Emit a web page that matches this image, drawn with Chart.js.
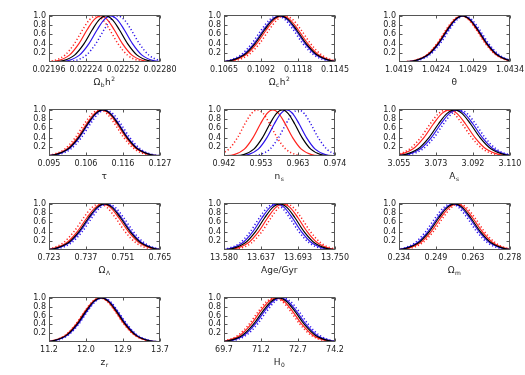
<!DOCTYPE html>
<html><head><meta charset="utf-8">
<script src="https://cdn.jsdelivr.net/npm/chart.js@4/dist/chart.umd.min.js"></script>
<style>
html,body{margin:0;padding:0;background:#fff;width:525px;height:375px;overflow:hidden;}
canvas{position:absolute;}
</style></head><body>
<script>
// ---------- data ----------
const axisLabels = [
  [['Ω','n'],['b','sub'],['h','n'],['2','sup']],
  [['Ω','n'],['c','sub'],['h','n'],['2','sup']],
  [['θ','n']],
  [['τ','n']],
  [['n','n'],['s','sub']],
  [['A','n'],['s','sub']],
  [['Ω','n'],['Λ','sub']],
  [['Age/Gyr','n']],
  [['Ω','n'],['m','sub']],
  [['z','n'],['r','sub']],
  [['H','n'],['0','sub']]
];
const xTickLabels = [
  ['0.02196','0.02224','0.02252','0.02280'],
  ['0.1065','0.1092','0.1118','0.1145'],
  ['1.0419','1.0424','1.0429','1.0434'],
  ['0.095','0.106','0.116','0.127'],
  ['0.942','0.953','0.963','0.974'],
  ['3.055','3.073','3.092','3.110'],
  ['0.723','0.737','0.751','0.765'],
  ['13.580','13.637','13.693','13.750'],
  ['0.234','0.249','0.263','0.278'],
  ['11.2','12.0','12.9','13.7'],
  ['69.7','71.2','72.7','74.2']
];
const xMin = [0.02196, 0.1065, 1.0419, 0.095, 0.942, 3.055, 0.723, 13.580, 0.234, 11.2, 69.7];
const xMax = [0.02280, 0.1145, 1.0434, 0.127, 0.974, 3.110, 0.765, 13.750, 0.278, 13.7, 74.2];
// peak positions of each likelihood curve
const centerBlack   = [0.022390, 0.11058, 1.042758, 0.11052, 0.95880, 3.08250, 0.74400, 13.6655, 0.25613, 12.375, 71.923];
const centerRed     = [0.022351, 0.11070, 1.042748, 0.11020, 0.95608, 3.08000, 0.74337, 13.6701, 0.25688, 12.355, 71.8285];
const centerBlue    = [0.022427, 0.11050, 1.042767, 0.11074, 0.96008, 3.08366, 0.74442, 13.6614, 0.25560, 12.395, 71.9905];
const centerRedDot  = [0.022317, 0.11090, 1.042740, 0.10956, 0.95160, 3.07838, 0.74211, 13.6752, 0.25776, 12.345, 71.7475];
const centerBlueDot = [0.022479, 0.11034, 1.042785, 0.11132, 0.96344, 3.08500, 0.74526, 13.6574, 0.25468, 12.4125, 72.085];
// half width at half maximum of the curves in each panel
const hwhmSolid  = [0.000143, 0.0016, 0.000285, 0.00608, 0.00496, 0.011, 0.0084, 0.0323, 0.0088, 0.475, 0.9];
const hwhmDotted = [0.000143, 0.0016, 0.000285, 0.00608, 0.00496, 0.011, 0.0084, 0.0323, 0.0088, 0.475, 0.9];
// bell profile: height vs. distance from peak (in HWHM units)
const profileY = [0, 0.03, 0.15, 0.4, 0.7, 0.92, 1];
const profileD = [2.89, 2.249, 1.654, 1.15, 0.717, 0.347, 0];
const yTicks = [0.2, 0.4, 0.6, 0.8, 1.0];

// ---------- layout ----------
const boxTop = [15, 109, 203, 297];
const boxH = [47, 47, 47, 45];
const colLeft = [0, 175, 350];
const PADTOP = 10, XAXH = 36, YAXW = 49, BOXW = 111, CW = 200;

function curve(c, h) {
  const pts = [];
  for (let i = 0; i < profileY.length; i++) pts.push({x: c - h * profileD[i], y: profileY[i]});
  for (let i = profileY.length - 2; i >= 0; i--) pts.push({x: c + h * profileD[i], y: profileY[i]});
  return pts;
}

const RED = 'rgb(255,35,30)', BLUE = 'rgb(45,20,235)';
const FONT = "'DejaVu Sans', sans-serif";

const frame = {
  id: 'frame',
  afterDatasetsDraw(chart) {
    const a = chart.chartArea, ctx = chart.ctx;
    ctx.save();
    ctx.strokeStyle = '#555';
    ctx.lineWidth = 1;
    const l = Math.round(a.left) + 0.5, r = Math.round(a.right) - 0.5;
    const t = Math.round(a.top) + 0.5, b = Math.round(a.bottom) - 0.5;
    ctx.strokeRect(l, t, r - l, b - t);
    ctx.beginPath();
    const xs = chart.scales.x;
    xs.ticks.forEach(tk => {
      const px = Math.round(xs.getPixelForValue(tk.value)) + 0.5;
      ctx.moveTo(px, b); ctx.lineTo(px, b - 3);
      ctx.moveTo(px, t); ctx.lineTo(px, t + 3);
    });
    const ys = chart.scales.y;
    ys.ticks.forEach(tk => {
      const py = Math.round(ys.getPixelForValue(tk.value)) + 0.5;
      ctx.moveTo(l, py); ctx.lineTo(l + 3, py);
      ctx.moveTo(r, py); ctx.lineTo(r - 3, py);
    });
    ctx.stroke();
    ctx.restore();
  }
};

const xTitle = {
  id: 'xTitle',
  afterDraw(chart, args, opts) {
    const parts = opts.parts, ctx = chart.ctx, a = chart.chartArea;
    ctx.save();
    ctx.fillStyle = '#222';
    ctx.textBaseline = 'alphabetic';
    const base = a.bottom + 23;
    const fN = "9px " + FONT, fS = "6px " + FONT;
    let w = 0;
    parts.forEach(p => { ctx.font = p[1] === 'n' ? fN : fS; w += ctx.measureText(p[0]).width + 0.5; });
    let x = (a.left + a.right) / 2 - w / 2;
    parts.forEach(p => {
      ctx.font = p[1] === 'n' ? fN : fS;
      const dy = p[1] === 'sub' ? 2 : (p[1] === 'sup' ? -4 : 0);
      ctx.fillText(p[0], x, base + dy);
      x += ctx.measureText(p[0]).width + 0.5;
    });
    ctx.restore();
  }
};

for (let i = 0; i < 11; i++) {
  const col = i % 3, row = Math.floor(i / 3);
  const cv = document.createElement('canvas');
  const H = PADTOP + boxH[row] + XAXH;
  cv.width = CW; cv.height = H;
  cv.style.left = colLeft[col] + 'px';
  cv.style.top = (boxTop[row] - PADTOP) + 'px';
  cv.style.width = CW + 'px'; cv.style.height = H + 'px';
  document.body.appendChild(cv);

  const mk = (data, color, dotted, w) => ({
    data, borderColor: color, borderWidth: w, pointRadius: 0, fill: false,
    cubicInterpolationMode: 'monotone', borderDash: dotted ? [1.2, 2.2] : [],
  });
  const datasets = [
    mk(curve(centerBlack[i], hwhmSolid[i]), '#000', false, 1.2),
    mk(curve(centerBlue[i], hwhmSolid[i]), BLUE, false, 1.2),
    mk(curve(centerRed[i], hwhmSolid[i]), RED, false, 1.2),
    mk(curve(centerBlueDot[i], hwhmDotted[i]), BLUE, true, 1.5),
    mk(curve(centerRedDot[i], hwhmDotted[i]), RED, true, 1.5),
  ];
  const lo = xMin[i], hi = xMax[i], labels = xTickLabels[i];
  new Chart(cv, {
    type: 'line',
    data: { datasets },
    options: {
      responsive: false, animation: false, devicePixelRatio: 1,
      layout: { padding: { top: PADTOP, right: CW - YAXW - BOXW, left: 0, bottom: 0 } },
      plugins: { legend: { display: false }, tooltip: { enabled: false }, xTitle: { parts: axisLabels[i] } },
      scales: {
        x: {
          type: 'linear', min: lo, max: hi,
          afterBuildTicks: s => { s.ticks = labels.map((_, k) => ({ value: lo + k * (hi - lo) / 3 })); },
          afterFit: s => { s.height = XAXH; },
          ticks: { autoSkip: false, maxRotation: 0, minRotation: 0, padding: 3, color: '#222',
                   font: { family: FONT, size: 8 }, callback: (v, k) => labels[k] },
          grid: { display: false, drawTicks: false }, border: { display: false }
        },
        y: {
          min: 0, max: 1.02,
          afterBuildTicks: s => { s.ticks = yTicks.map(v => ({ value: v })); },
          afterFit: s => { s.width = YAXW; },
          ticks: { autoSkip: false, padding: 3, color: '#222', font: { family: FONT, size: 8 }, callback: v => v.toFixed(1) },
          grid: { display: false, drawTicks: false }, border: { display: false }
        }
      }
    },
    plugins: [frame, xTitle]
  });
}
</script>
</body></html>
